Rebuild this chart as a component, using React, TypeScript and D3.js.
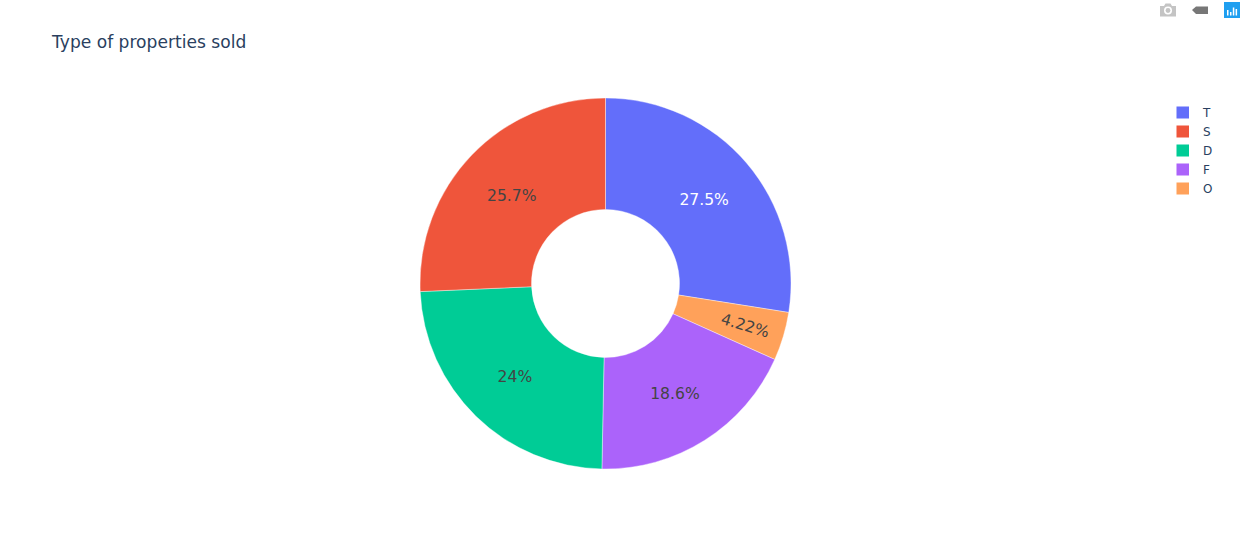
import React from "react";
import * as d3 from "d3";

const sliceLabels = ["T", "O", "F", "D", "S"];
const sliceValues = [27.5, 4.22, 18.6, 24, 25.7];
const sliceText = ["27.5%", "4.22%", "18.6%", "24%", "25.7%"];
const sliceColors = ["#636efa", "#ffa15a", "#ab63fa", "#00cc96", "#EF553B"];
const textColors = ["#ffffff", "#444444", "#444444", "#444444", "#444444"];
const legendLabels = ["T", "S", "D", "F", "O"];
const legendColors = ["#636efa", "#EF553B", "#00cc96", "#ab63fa", "#ffa15a"];
const titleText = "Type of properties sold";

const cx = 605.5, cy = 283.5, outer = 185.5, inner = 74;
const font = "'DejaVu Sans', Verdana, sans-serif";

export default function App() {
  const pie = d3.pie<number>().sort(null)(sliceValues);
  const arc = d3.arc<d3.PieArcDatum<number>>().innerRadius(inner).outerRadius(outer);
  const labelArc = d3.arc<d3.PieArcDatum<number>>().innerRadius(106).outerRadius(186);
  const legendY = d3.scalePoint<string>().domain(legendLabels).range([112.5, 188.5]);
  return (
    <svg width={1247} height={545} style={{ position: "absolute", left: 0, top: 0, background: "#fff" }}>
      <text x={52} y={48} fontFamily={font} fontSize={17.1} fill="#2a3f5f">{titleText}</text>
      <g transform={`translate(${cx},${cy})`}>
        {pie.map((d, i) => (
          <path key={sliceLabels[i]} d={arc(d) || ""} fill={sliceColors[i]} stroke="#fff" strokeWidth={0.4} />
        ))}
        {pie.map((d, i) => {
          const isSmall = sliceLabels[i] === "O";
          const [x, y] = (isSmall ? labelArc : arc).centroid(d);
          const mid = ((d.startAngle + d.endAngle) / 2) * 180 / Math.PI;
          const rot = isSmall ? mid - 90 : 0;
          const shift = sliceLabels[i] === "S" ? 1.5 : 0;
          return (
            <text key={sliceLabels[i]} transform={`translate(${x},${y + shift}) rotate(${rot})`} textAnchor="middle" dy="0.36em"
              fontFamily={font} fontSize={15.6} fill={textColors[i]}>{sliceText[i]}</text>
          );
        })}
      </g>
      {legendLabels.map((l, i) => (
        <g key={l} transform={`translate(0,${legendY(l)})`}>
          <rect x={1176.5} y={-6} width={12.5} height={12} fill={legendColors[i]} />
          <text x={1203} y={4.5} fontFamily={font} fontSize={12} fill="#2a3f5f">{l}</text>
        </g>
      ))}
      <g>
        <path d="M1160 6h4l1.5-2.5h5l1.5 2.5h4v10.5h-16z" fill="#c4c4c4" />
        <circle cx={1168} cy={10.5} r={4} fill="#fff" />
        <circle cx={1168} cy={10.5} r={2.4} fill="#c4c4c4" />
        <path d="M1192 10l4-3.5h12v7.5H1196z" fill="#777" />
        <rect x={1224} y={2} width={16} height={16} fill="#1f9ff0" />
        <path d="M1227 10h1.5v5.5H1227zM1230 12h1.5v3.5H1230zM1232.8 7.5h1.5v8H1232.8zM1235.6 9h1.5v6.5H1235.6z" fill="#fff" />
      </g>
    </svg>
  );
}
